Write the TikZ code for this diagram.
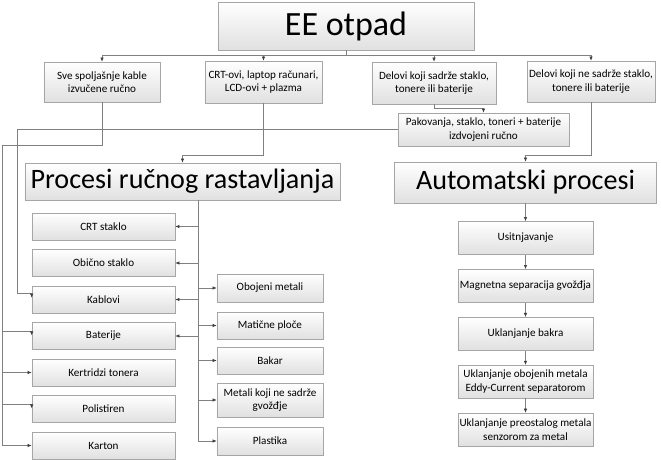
\documentclass[tikz,border=0pt]{standalone}
\usepackage{fontspec}
\setmainfont{Carlito}
\usepackage{tikz}
\usetikzlibrary{arrows.meta,shadows,calc}
\usepackage{xcolor}

\tikzset{
  box/.style={draw=black!35, line width=0.5pt, top color=white, bottom color=black!12,
    drop shadow={shadow xshift=0.8pt, shadow yshift=-0.8pt, opacity=0.25},
    align=center, inner sep=1pt, font=\fontsize{9.5}{11.4}\selectfont},
  bigbox/.style={box, font=\fontsize{24}{28}\selectfont},
  line/.style={draw=black!50, line width=0.5pt},
  arr/.style={line, -{Latex[length=3.5pt,width=3pt,color=black!75]}}
}

\begin{document}
\begin{tikzpicture}[x=0.03cm, y=-0.03cm]
  \useasboundingbox (0,0) rectangle (661,460);
  % vrh
  \node[box, font=\fontsize{29}{34}\selectfont, minimum width=7.68cm, minimum height=1.44cm] (ee) at (346,26) {EE otpad};
  \node[box, minimum width=3.48cm, minimum height=1.2cm] (sve) at (102,82) {Sve spoljašnje kable\\izvučene ručno};
  \node[box, minimum width=3.51cm, minimum height=1.26cm] (lcd) at (263.5,82) {CRT-ovi, laptop računari,\\LCD-ovi + plazma};
  \node[box, minimum width=3.72cm, minimum height=1.26cm] (sadrze) at (434,83) {Delovi koji sadrže staklo,\\tonere ili baterije};
  \node[box, minimum width=3.84cm, minimum height=1.23cm] (nesadrze) at (591,81.5) {Delovi koji ne sadrže staklo,\\tonere ili baterije};
  \node[box, minimum width=5.13cm, minimum height=0.99cm] (pak) at (483.5,129.5) {Pakovanja, staklo, toneri + baterije\\izdvojeni ručno};
  \node[bigbox, minimum width=9.45cm, minimum height=1.11cm] (rucni) at (182.5,181.5) {Procesi ručnog rastavljanja};
  \node[bigbox, minimum width=7.86cm, minimum height=1.23cm] (auto) at (525.5,182.5) {Automatski procesi};

  % rucno rastavljanje
  \foreach \n/\t [count=\i from 0] in {crt/CRT staklo, obicno/Obično staklo, kablovi/Kablovi, baterije/Baterije,
      kertridzi/Kertridzi tonera, polistiren/Polistiren, karton/Karton}
    \node[box, minimum width=4.29cm, minimum height=0.81cm] (\n) at (103.5,{226.5+36.5*\i}) {\t};
  \node[box, minimum width=3.18cm, minimum height=0.84cm] (obojeni) at (270,288) {Obojeni metali};
  \node[box, minimum width=3.18cm, minimum height=0.81cm] (maticne) at (270,325.5) {Matične ploče};
  \node[box, minimum width=3.18cm, minimum height=0.81cm] (bakar) at (270,360.5) {Bakar};
  \node[box, minimum width=3.18cm, minimum height=1.02cm] (metali) at (270,400) {Metali koji ne sadrže\\gvožđje};
  \node[box, minimum width=3.18cm, minimum height=0.84cm] (plastika) at (270,441) {Plastika};

  % automatski
  \foreach \n/\t [count=\i from 0] in {usitnj/Usitnjavanje, magnet/Magnetna separacija gvožđja, bakra/Uklanjanje bakra,
      eddy/{Uklanjanje obojenih metala\\Eddy-Current separatorom}, senzor/{Uklanjanje preostalog metala\\senzorom za metal}}
    \node[box, minimum width=4.05cm, minimum height=0.99cm] (\n) at (525.5,{238+47.9*\i}) {\t};

  % veze
  \foreach \b in {sve,lcd,sadrze,nesadrze}
    \draw[arr] (ee.south) -- ++(0,5) -| (\b.north);
  \draw[arr] (sadrze.south) -- ++(0,4) -| (pak.north);
  \draw[arr] (lcd.south) -- ++(0,52) -| (rucni.north);
  \draw[arr] (nesadrze.south) -- ++(0,53.5) -| (auto.north);
  \foreach \a/\b in {auto/usitnj,usitnj/magnet,magnet/bakra,bakra/eddy,eddy/senzor}
    \draw[arr] (\a) -- (\b);

  \coordinate (trunk) at ([xshift=0.465cm]rucni.south);
  \foreach \b in {crt,obicno,kablovi,baterije}
    \draw[arr] (trunk) |- (\b.east);
  \foreach \b in {obojeni,maticne,bakar,metali,plastika}
    \draw[arr] (trunk) |- (\b.west);

  \coordinate (pakL) at (17,129.5);
  \draw[arr] (pak.west) -- (pakL) |- ([yshift=5pt]kablovi.west) -- ([yshift=1.5pt]kablovi.west);
  \coordinate (sveL) at (2,145);
  \draw[line] (sve.south) |- (sveL);
  \draw[arr] (sveL) |- ([yshift=4pt]baterije.west) -- ([yshift=0.5pt]baterije.west);
  \draw[arr] (sveL) |- (kertridzi.west);
  \draw[arr] (sveL) |- ([yshift=4pt]polistiren.west) -- ([yshift=0.5pt]polistiren.west);
  \draw[arr] (sveL) |- (karton.west);
\end{tikzpicture}
\end{document}
